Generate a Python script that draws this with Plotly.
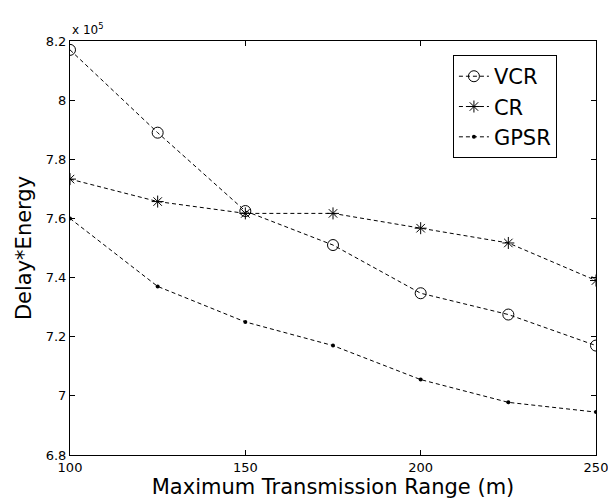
import plotly.graph_objects as go

x_range = [100, 125, 150, 175, 200, 225, 250]
vcr = [8.17, 7.89, 7.625, 7.51, 7.347, 7.275, 7.17]
cr = [7.733, 7.657, 7.617, 7.617, 7.567, 7.517, 7.39]
gpsr = [7.60, 7.37, 7.25, 7.17, 7.055, 6.978, 6.945]
x_ticks = [100, 150, 200, 250]
y_ticks = [6.8, 7.0, 7.2, 7.4, 7.6, 7.8, 8.0, 8.2]
y_tick_text = ["6.8", "7", "7.2", "7.4", "7.6", "7.8", "8", "8.2"]

FONT = "DejaVu Sans, Arial, sans-serif"
line = dict(color="black", width=1, dash="4px,3px")

fig = go.Figure()
fig.add_trace(go.Scatter(x=x_range, y=vcr, name="VCR", mode="lines+markers",
                         line=line,
                         marker=dict(symbol="circle-open", size=11, color="black",
                                     line=dict(width=1, color="black"))))
fig.add_trace(go.Scatter(x=x_range, y=cr, name="CR", mode="lines+markers",
                         line=line,
                         marker=dict(symbol="asterisk-open", size=10, color="black",
                                     line=dict(width=1, color="black"))))
fig.add_trace(go.Scatter(x=x_range, y=gpsr, name="GPSR", mode="lines+markers",
                         line=line,
                         marker=dict(symbol="circle", size=4, color="black")))

axis_common = dict(showgrid=False, zeroline=False, showline=True, linecolor="black",
                   linewidth=1, mirror="ticks", ticks="inside", ticklen=5,
                   tickcolor="black", ticklabeloverflow="allow", automargin=False,
                   tickfont=dict(family=FONT, size=13, color="black"))

fig.update_layout(
    width=608, height=503,
    margin=dict(l=70, r=12, t=41, b=48),
    paper_bgcolor="white", plot_bgcolor="white",
    font=dict(family=FONT, color="black"),
    xaxis=dict(range=[100, 250], tickvals=x_ticks,
               title=dict(text="Maximum Transmission Range (m)",
                          font=dict(family=FONT, size=21), standoff=2),
               **axis_common),
    yaxis=dict(range=[6.8, 8.2], tickvals=y_ticks, ticktext=y_tick_text,
               title=dict(text="Delay*Energy", font=dict(family=FONT, size=21), standoff=8),
               **axis_common),
    legend=dict(x=0.728, y=0.966, xanchor="left", yanchor="top",
                bordercolor="black", borderwidth=1, bgcolor="white",
                font=dict(family=FONT, size=21), tracegroupgap=0, itemwidth=30),
    showlegend=True,
)
fig.add_annotation(xref="paper", yref="paper", x=0, y=1, xanchor="left", yanchor="bottom",
                   text="x 10<sup>5</sup>", showarrow=False,
                   font=dict(family=FONT, size=12, color="black"), yshift=2)

fig.write_html("out.html")
